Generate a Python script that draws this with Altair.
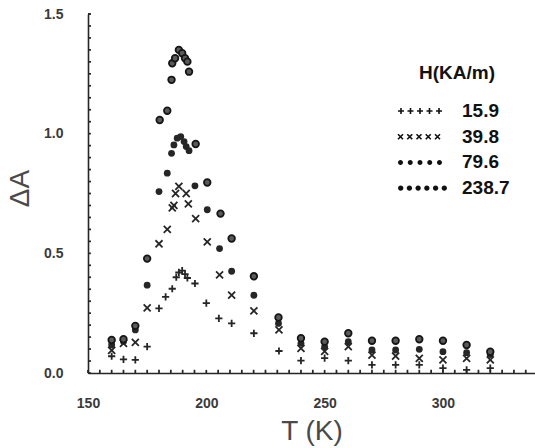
import altair as alt
import pandas as pd

# ---- data ----
T_159 = [160, 165, 170, 175, 180, 182.8, 185.6, 187.3, 188.4, 189.8, 191, 192, 195.2, 200, 205.3, 210.7,
         220.1, 230.7, 240, 250, 260, 270, 280, 290, 300, 310, 320]
A_159 = [0.07, 0.057, 0.055, 0.11, 0.27, 0.318, 0.352, 0.40, 0.42, 0.428, 0.413, 0.397, 0.374, 0.292, 0.228, 0.207,
         0.166, 0.092, 0.052, 0.062, 0.052, 0.034, 0.034, 0.034, 0.02, 0.013, 0.02]

T_398 = [160, 165, 170, 175, 180, 183.5, 185.6, 186.3, 187, 188.4, 191.5, 192.4, 195.5, 200.4, 205.6, 210.7,
         220.1, 230.7, 240, 250, 260, 270, 280, 290, 300, 310, 320]
A_398 = [0.095, 0.124, 0.128, 0.272, 0.54, 0.60, 0.69, 0.70, 0.75, 0.78, 0.75, 0.707, 0.645, 0.548, 0.41, 0.325,
         0.26, 0.18, 0.103, 0.09, 0.11, 0.075, 0.071, 0.061, 0.055, 0.061, 0.055]

T_796 = [160, 165, 170, 175, 180, 183.5, 185.3, 186.3, 187.7, 189.2, 190.6, 191.5, 192.7, 195.2, 200.4, 205.6,
         210.7, 220.1, 230.5, 240, 250, 260, 270, 280, 290, 300, 310, 320]
A_796 = [0.118, 0.132, 0.18, 0.367, 0.758, 0.835, 0.918, 0.953, 0.981, 0.988, 0.967, 0.946, 0.929, 0.782, 0.682, 0.52,
         0.425, 0.325, 0.207, 0.124, 0.11, 0.131, 0.096, 0.096, 0.099, 0.089, 0.085, 0.077]

T_2387 = [160, 165, 170, 175, 180.3, 183.5, 185.3, 185.6, 186.8, 188.4, 189.8, 191, 192, 192.7, 195.5, 200.4,
          206, 210.7, 220.1, 230.5, 240, 250, 260, 270, 280, 290, 300, 310, 320]
A_2387 = [0.138, 0.141, 0.197, 0.478, 1.057, 1.096, 1.225, 1.294, 1.315, 1.35, 1.336, 1.315, 1.301, 1.259, 0.957, 0.796,
          0.666, 0.562, 0.404, 0.232, 0.145, 0.131, 0.166, 0.135, 0.135, 0.141, 0.135, 0.117, 0.089]

series_labels = ["15.9", "39.8", "79.6", "238.7"]
legend_counts = [5, 5, 5, 6]
legend_title = "H(KA/m)"

x_label_values = [150, 200, 250, 300]
y_label_values = [0.0, 0.5, 1.0, 1.5]
x_minor = [v for v in range(155, 340, 5) if v % 50 != 0]
y_minor = [round(0.05 * i, 2) for i in range(1, 30) if i % 10 != 0]

W, H = 447, 359
XMIN, XMAX, YMIN, YMAX = 150, 338.9, 0.0, 1.5
INK = "#262626"

# ---- one table: the series points plus the frame-guide anchors (tick values, top corner) ----
frames = []
for lab, ts, as_ in zip(series_labels, [T_159, T_398, T_796, T_2387], [A_159, A_398, A_796, A_2387]):
    frames.append(pd.DataFrame({"T": ts, "A": as_, "H": lab}))
frames.append(pd.DataFrame({"T": x_minor, "A": YMIN, "H": "xminor"}))
frames.append(pd.DataFrame({"T": x_label_values, "A": YMIN, "H": "xmajor"}))
frames.append(pd.DataFrame({"T": XMIN, "A": y_minor, "H": "yminor"}))
frames.append(pd.DataFrame({"T": XMIN, "A": y_label_values, "H": "ymajor"}))
frames.append(pd.DataFrame({"T": [XMIN], "A": [YMAX], "H": ["top"]}))
df = pd.concat(frames, ignore_index=True)

# ---- styles per kind ----
kinds = series_labels + ["xminor", "xmajor", "yminor", "ymajor", "top"]
shapes = ["M-1,0H1M0,-1V1", "M-1,-1L1,1M-1,1L1,-1", "circle", "circle",
          "M0,0V-1", "M0,0V-1", "M0,0H1", "M0,0H1", "M0,0H1"]
sizes = [52, 30, 34, 40, 100, 256, 100, 256, (2 * (W + 5)) ** 2]
fills = ["transparent", "transparent", INK, "#5a5a5a",
         "transparent", "transparent", "transparent", "transparent", "transparent"]
strokes = [INK, INK, "transparent", "#151515", INK, INK, INK, INK, INK]
widths = [1.8, 1.7, 0.0, 1.8, 1.3, 1.3, 1.3, 1.3, 1.6]

x_scale = alt.Scale(domain=[XMIN, XMAX], nice=False, zero=False)
y_scale = alt.Scale(domain=[YMIN, YMAX], nice=False, zero=False)

lab_kw = dict(labelFont="Liberation Sans", labelFontSize=14, labelFontWeight="bold",
              labelColor="#3a3a3a", labelFlush=False)
ttl_kw = dict(titleFont="Liberation Sans", titleFontSize=28, titleFontWeight="normal", titleColor="#4a4a4a")

x_axis = alt.Axis(values=x_label_values, format="d", title="T  (K)", grid=False,
                  ticks=False, domainColor=INK, domainWidth=1.6, labelPadding=23,
                  titleBaseline="middle", titleY=58, **lab_kw, **ttl_kw)
y_axis = alt.Axis(values=y_label_values, format=".1f", title="ΔA", grid=False,
                  ticks=False, domainColor=INK, domainWidth=1.6, labelPadding=25,
                  titleAngle=270, titleBaseline="middle", titleX=-68, titleY=174, **lab_kw, **ttl_kw)

marks = alt.Chart(df).mark_point(filled=True, opacity=1).encode(
    x=alt.X("T:Q", scale=x_scale, axis=x_axis),
    y=alt.Y("A:Q", scale=y_scale, axis=y_axis),
    shape=alt.Shape("H:N", scale=alt.Scale(domain=kinds, range=shapes), legend=None),
    size=alt.Size("H:N", scale=alt.Scale(domain=kinds, range=sizes), legend=None),
    fill=alt.Fill("H:N", scale=alt.Scale(domain=kinds, range=fills), legend=None),
    stroke=alt.Stroke("H:N", scale=alt.Scale(domain=kinds, range=strokes), legend=None),
    strokeWidth=alt.StrokeWidth("H:N", scale=alt.Scale(domain=kinds, range=widths), legend=None),
)

one = pd.DataFrame({"d": [0]})
leg_title = alt.Chart(one).mark_text(font="Liberation Sans", fontSize=19, fontWeight="bold",
                                     color="#111", align="center", baseline="middle").encode(
    x=alt.value(369), y=alt.value(59), text=alt.value(legend_title))
leg_labels = alt.Chart(one).mark_text(font="Liberation Sans", fontSize=19, fontWeight="bold",
                                      color="#111", align="left", baseline="middle", lineHeight=25.7).encode(
    x=alt.value(374), y=alt.value(97), text=alt.value(series_labels))


def row_path(n, kind, span, sym):
    """SVG path of n small symbols in a row, in the unit box used by Vega symbols."""
    k = span / 2.0
    step = (span - sym) / (n - 1)
    parts = []
    for i in range(n):
        cx = (-span / 2 + sym / 2 + i * step) / k
        r = (sym / 2) / k
        if kind == "plus":
            parts.append(f"M{cx - r:.4f},0H{cx + r:.4f}M{cx:.4f},{-r:.4f}V{r:.4f}")
        elif kind == "cross":
            parts.append(f"M{cx - r:.4f},{-r:.4f}L{cx + r:.4f},{r:.4f}M{cx - r:.4f},{r:.4f}L{cx + r:.4f},{-r:.4f}")
        else:
            parts.append(f"M{cx - r:.4f},0A{r:.4f},{r:.4f} 0 1,0 {cx + r:.4f},0A{r:.4f},{r:.4f} 0 1,0 {cx - r:.4f},0Z")
    return "".join(parts)


sym_specs = [("plus", 44, 6, 332, 97, False), ("cross", 42, 5, 331, 122.7, False),
             ("dot", 44, 5, 332, 148.4, True), ("dot", 49, 5.4, 334.5, 174.1, True)]
sym_layers = []
for n, (kind, span, sym, cx, cy, filled) in zip(legend_counts, sym_specs):
    kw = dict(shape=row_path(n, kind, span, sym), size=span * span, opacity=1)
    if filled:
        kw.update(filled=True, fill="#111", strokeWidth=0)
    else:
        kw.update(filled=False, stroke="#111", strokeWidth=1.6)
    sym_layers.append(alt.Chart(one).mark_point(**kw).encode(x=alt.value(cx), y=alt.value(cy)))

chart = alt.layer(marks, leg_title, leg_labels, *sym_layers).properties(
    width=W, height=H, autosize="none",
    padding={"left": 88, "top": 14, "right": 0, "bottom": 75},
    background="white",
).configure_view(stroke=None)

chart.save("out.html", embed_options={"renderer": "svg", "actions": False})
